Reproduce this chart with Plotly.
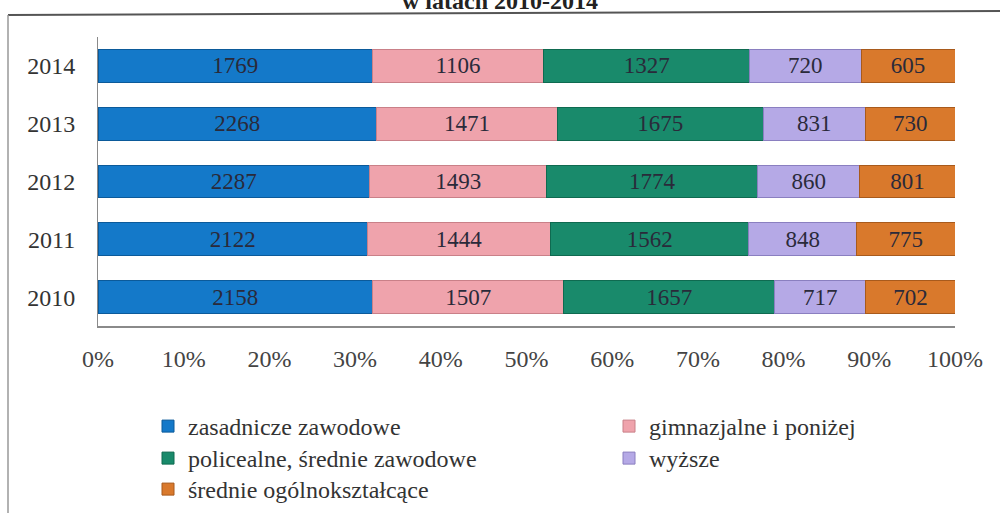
import plotly.graph_objects as go

years = ["2010", "2011", "2012", "2013", "2014"]
series_names = ["zasadnicze zawodowe", "gimnazjalne i poniżej", "policealne, średnie zawodowe",
                "wyższe", "średnie ogólnokształcące"]
zasadnicze = [2158, 2122, 2287, 2268, 1769]
gimnazjalne = [1507, 1444, 1493, 1471, 1106]
policealne = [1657, 1562, 1774, 1675, 1327]
wyzsze = [717, 848, 860, 831, 720]
srednie = [702, 775, 801, 730, 605]
tick_vals = [0, 10, 20, 30, 40, 50, 60, 70, 80, 90, 100]
tick_text = ["0%", "10%", "20%", "30%", "40%", "50%", "60%", "70%", "80%", "90%", "100%"]

colors = ["#1479c9", "#efa3ac", "#198a6b", "#b5a9e6", "#d9792c"]
edges = ["#0b5a9a", "#c98088", "#0f6a50", "#8a7fc0", "#a85a1c"]
data = [zasadnicze, gimnazjalne, policealne, wyzsze, srednie]

font_family = "Liberation Serif"

# plot area in pixels
L, R, T, B = 98, 955, 37, 326
PW, PH = R - L, B - T


def px(x):
    return (x - L) / PW


def py(y):
    return (B - y) / PH


# legend placement (pixels): column left, row centre
legend_pos = [(148, 428), (609, 428), (148, 460), (609, 460), (148, 491)]
legend_ids = ["legend", "legend2", "legend3", "legend4", "legend5"]

fig = go.Figure()
for i, (name, vals, c, e, lg) in enumerate(zip(series_names, data, colors, edges, legend_ids)):
    fig.add_trace(go.Bar(
        y=years, x=vals, name=name, orientation="h",
        marker=dict(color=c, line=dict(color=e, width=1)),
        text=[str(v) for v in vals], textposition="inside", insidetextanchor="middle",
        textfont=dict(family=font_family, size=23, color="#2a2a3a"),
        legend=lg, hoverinfo="x+y+name",
    ))

legend_font = dict(family=font_family, size=24, color="#333333")
legends = {}
for lg, (lx, ly) in zip(legend_ids, legend_pos):
    legends[lg] = dict(orientation="v", x=px(lx), y=py(ly - 24), xanchor="left", yanchor="top",
                       font=legend_font, itemwidth=30, bgcolor="rgba(0,0,0,0)")

fig.update_layout(
    barmode="stack", barnorm="percent", bargap=0.43,
    width=1000, height=513,
    margin=dict(l=L, r=1000 - R, t=T, b=513 - B, autoexpand=False),
    paper_bgcolor="white", plot_bgcolor="white",
    font=dict(family=font_family, size=24, color="#333333"),
    xaxis=dict(range=[0, 100], tickvals=tick_vals, ticktext=tick_text, showgrid=False,
               zeroline=False, showline=True, linecolor="#8a8a8a", linewidth=2,
               ticks="", ticklabelstandoff=10, tickfont=dict(size=24, color="#444444")),
    yaxis=dict(showgrid=False, zeroline=False, showline=True, linecolor="#8a8a8a", linewidth=1,
               ticks="", ticklabelstandoff=17, tickfont=dict(size=24, color="#333333")),
    showlegend=True,
    **legends,
)

fig.add_shape(type="line", xref="paper", yref="paper", x0=px(8), x1=px(1000), y0=py(15), y1=py(11),
              line=dict(color="#555555", width=2))
fig.add_shape(type="line", xref="paper", yref="paper", x0=px(8), x1=px(8), y0=py(15), y1=py(520),
              line=dict(color="#999999", width=1.5))

fig.add_annotation(text="<b>w latach 2010-2014</b>", xref="paper", yref="paper",
                   x=px(500), y=py(1), xanchor="center", yanchor="middle",
                   showarrow=False, font=dict(family=font_family, size=24, color="#222222"))

fig.write_html("out.html", config={"displayModeBar": False},
               post_script="document.body.style.margin='0';")
